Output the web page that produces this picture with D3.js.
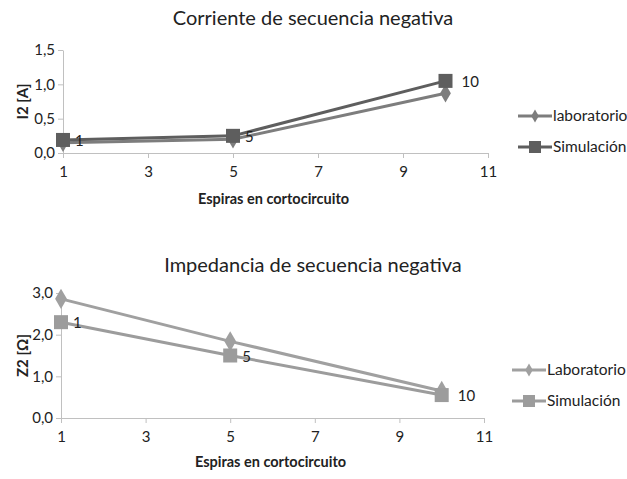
<!DOCTYPE html>
<html>
<head>
<meta charset="utf-8">
<script src="https://cdn.jsdelivr.net/npm/d3@7"></script>
<style>
  body { margin: 0; background: #fff; }
  svg { font-family: Lato, "Open Sans", sans-serif; }
  .axis path, .axis line { stroke: #c0c0c0; }
  .axis text { font-size: 15px; fill: #222; font-family: Lato, sans-serif; }
</style>
</head>
<body>
<svg width="627" height="479"></svg>
<script>
// data
var espiras = [1, 5, 10];
var corrienteLab = [0.15, 0.20, 0.87];
var corrienteSim = [0.19, 0.25, 1.05];
var impedanciaLab = [2.86, 1.84, 0.65];
var impedanciaSim = [2.30, 1.50, 0.55];
var xTicks = [1, 3, 5, 7, 9, 11];
var yTicksI = [0, 0.5, 1.0, 1.5];
var yTicksZ = [0, 1, 2, 3];

var svg = d3.select('svg');
var fmt = d => d.toFixed(1).replace('.', ',');

function drawChart(cfg) {
  var g = svg.append('g');

  var scaleX = d3.scaleLinear().domain([1, 11]).range([cfg.left, cfg.right]);
  var scaleY = d3.scaleLinear().domain(cfg.yDomain).range([cfg.bottom, cfg.top]);

  // axes
  g.append('g').attr('class', 'axis')
    .attr('transform', 'translate(0,' + cfg.bottom + ')')
    .call(d3.axisBottom(scaleX).tickValues(xTicks).tickSize(5).tickSizeOuter(0).tickPadding(8));
  g.append('g').attr('class', 'axis')
    .attr('transform', 'translate(' + cfg.left + ',0)')
    .call(d3.axisLeft(scaleY).tickValues(cfg.yTicks).tickFormat(fmt).tickSize(5).tickSizeOuter(0).tickPadding(3));

  var line = d3.line()
    .x((d, i) => scaleX(espiras[i]))
    .y(d => scaleY(d));

  // lab series (diamonds)
  g.append('path').datum(cfg.lab)
    .attr('fill', 'none').attr('stroke', cfg.labColor).attr('stroke-width', 3)
    .attr('d', line);
  g.selectAll('.dia').data(cfg.lab).enter().append('path')
    .attr('d', d3.symbol().type(d3.symbolDiamond).size(cfg.diaSize))
    .attr('transform', (d, i) => 'translate(' + scaleX(espiras[i]) + ',' + scaleY(d) + ')')
    .attr('fill', cfg.labColor);

  // sim series (squares)
  g.append('path').datum(cfg.sim)
    .attr('fill', 'none').attr('stroke', cfg.simColor).attr('stroke-width', 3)
    .attr('d', line);
  g.selectAll('.sq').data(cfg.sim).enter().append('rect')
    .attr('x', (d, i) => scaleX(espiras[i]) - 7)
    .attr('y', d => scaleY(d) - 7)
    .attr('width', 14).attr('height', 14)
    .attr('fill', cfg.simColor);

  // point labels
  g.selectAll('.lbl').data(cfg.sim).enter().append('text')
    .attr('x', (d, i) => scaleX(espiras[i]) + (i == 2 ? 16 : 12))
    .attr('y', d => scaleY(d) + 6)
    .style('font-size', '15px')
    .style('fill', '#222')
    .text((d, i) => espiras[i]);

  // title
  g.append('text')
    .attr('x', 313).attr('y', cfg.titleY)
    .style('text-anchor', 'middle')
    .style('font-size', '20px')
    .style('fill', '#222')
    .text(cfg.title);

  // x label
  g.append('text')
    .attr('x', (cfg.left + cfg.right) / 2 - 2).attr('y', cfg.xLabelY)
    .style('text-anchor', 'middle')
    .style('font-size', '14.5px').style('font-weight', 'bold')
    .style('fill', '#222')
    .text('Espiras en cortocircuito');

  // y label
  g.append('text')
    .attr('transform', 'rotate(-90)')
    .attr('x', -(cfg.top + cfg.bottom) / 2).attr('y', 28)
    .style('text-anchor', 'middle')
    .style('font-size', '15px').style('font-weight', 'bold')
    .style('fill', '#222')
    .text(cfg.yLabel);

  // legend
  var leg = g.append('g');
  [[cfg.legend[0], cfg.labColor, 'dia'], [cfg.legend[1], cfg.simColor, 'sq']].forEach(function (it, i) {
    var y = cfg.legendY[i];
    leg.append('line').attr('x1', cfg.legendX).attr('x2', cfg.legendX + 34)
      .attr('y1', y).attr('y2', y).attr('stroke', it[1]).attr('stroke-width', 3);
    if (it[2] == 'dia') {
      leg.append('path').attr('d', d3.symbol().type(d3.symbolDiamond).size(50))
        .attr('transform', 'translate(' + (cfg.legendX + 17) + ',' + y + ')').attr('fill', it[1]);
    } else {
      leg.append('rect').attr('x', cfg.legendX + 11).attr('y', y - 6)
        .attr('width', 12).attr('height', 12).attr('fill', it[1]);
    }
    leg.append('text').attr('x', cfg.legendX + 35).attr('y', y + 5)
      .style('font-size', '15.5px').style('fill', '#222').text(it[0]);
  });
}

drawChart({
  title: 'Corriente de secuencia negativa', titleY: 25,
  left: 63, right: 488, top: 50, bottom: 153,
  yDomain: [0, 1.5], yTicks: yTicksI, yLabel: 'I2 [A]',
  lab: corrienteLab, sim: corrienteSim,
  labColor: '#7d7d7d', simColor: '#5e5e5e', diaSize: 100,
  xLabelY: 204, legend: ['laboratorio', 'Simulación'],
  legendX: 518, legendY: [116, 147]
});

drawChart({
  title: 'Impedancia de secuencia negativa', titleY: 272,
  left: 61, right: 484, top: 293, bottom: 418,
  yDomain: [0, 3], yTicks: yTicksZ, yLabel: 'Z2 [Ω]',
  lab: impedanciaLab, sim: impedanciaSim,
  labColor: '#a0a0a0', simColor: '#9c9c9c', diaSize: 120,
  xLabelY: 467, legend: ['Laboratorio', 'Simulación'],
  legendX: 512, legendY: [370, 401]
});
</script>
</body>
</html>
